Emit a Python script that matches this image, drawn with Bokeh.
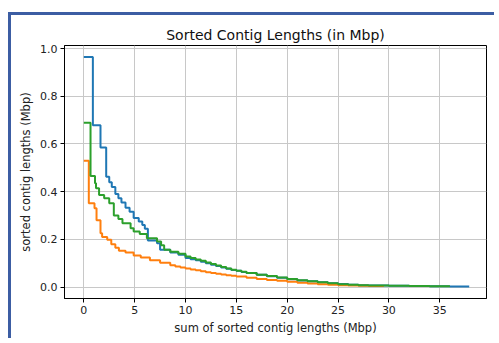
from bokeh.plotting import figure
from bokeh.models import Range1d, FixedTicker, PrintfTickFormatter
from bokeh.embed import file_html
from bokeh.resources import INLINE

TITLE = "Sorted Contig Lengths (in Mbp)"
X_LABEL = "sum of sorted contig lengths (Mbp)"
Y_LABEL = "sorted contig lengths (Mbp)"
X_TICKS = [0, 5, 10, 15, 20, 25, 30, 35]
Y_TICKS = [0.0, 0.2, 0.4, 0.6, 0.8, 1.0]

# step start positions (cumulative Mbp) and contig lengths (Mbp)
blue_x = [0, 0.89, 1.64, 2.2, 2.5, 2.75, 3.1, 3.4, 3.7, 4.1, 4.5, 4.9, 5.4, 5.75, 6.0, 6.3,
          7.2, 7.5, 8.5, 9.3, 10, 10.5, 11, 11.5, 12, 12.5, 13, 13.5, 14, 14.5, 15, 15.5,
          16, 17, 18, 19, 20, 21, 22, 23, 24, 25, 26, 27, 28, 30, 32, 34, 36, 37.9]
blue_y = [0.965, 0.679, 0.585, 0.463, 0.44, 0.42, 0.39, 0.372, 0.355, 0.333, 0.316, 0.29,
          0.275, 0.26, 0.245, 0.195, 0.184, 0.156, 0.145, 0.135, 0.122, 0.117, 0.112, 0.106,
          0.100, 0.094, 0.088, 0.082, 0.077, 0.072, 0.068, 0.063, 0.059, 0.052, 0.045,
          0.039, 0.033, 0.028, 0.024, 0.020, 0.016, 0.013, 0.010, 0.008, 0.007, 0.005,
          0.004, 0.003, 0.002, 0.002]

orange_x = [0, 0.49, 1.05, 1.25, 1.64, 1.8, 2.3, 2.7, 3.1, 3.45, 4.1, 4.9, 5.6, 6.5, 7.5,
            8.5, 9, 9.5, 10, 10.5, 11, 11.5, 12, 12.5, 13, 13.5, 14, 14.5, 15, 16, 17, 18,
            19, 20, 21, 22, 23, 24, 25, 26, 27, 28, 29.5]
orange_y = [0.53, 0.351, 0.33, 0.28, 0.226, 0.21, 0.198, 0.18, 0.165, 0.152, 0.145, 0.132,
            0.124, 0.112, 0.102, 0.091, 0.086, 0.082, 0.078, 0.074, 0.070, 0.066, 0.062,
            0.059, 0.056, 0.053, 0.050, 0.047, 0.044, 0.039, 0.034, 0.030, 0.026, 0.022,
            0.018, 0.015, 0.012, 0.010, 0.008, 0.006, 0.005, 0.004, 0.004]

green_x = [0, 0.66, 1.1, 1.2, 1.5, 2.0, 2.5, 2.95, 3.4, 3.8, 4.6, 4.9, 5.5, 6.2, 7.2, 7.6,
           7.9, 8.5, 9.3, 10, 10.5, 11, 11.5, 12, 12.5, 13, 13.5, 14, 14.5, 15, 15.5, 16,
           17, 18, 19, 20, 21, 22, 23, 24, 25, 26, 27, 28, 30, 32, 34, 36]
green_y = [0.689, 0.466, 0.435, 0.414, 0.386, 0.372, 0.351, 0.30, 0.285, 0.268, 0.247,
           0.233, 0.222, 0.205, 0.191, 0.175, 0.156, 0.148, 0.14, 0.128, 0.122, 0.116,
           0.110, 0.103, 0.097, 0.090, 0.084, 0.078, 0.073, 0.068, 0.064, 0.059, 0.052,
           0.046, 0.040, 0.034, 0.029, 0.024, 0.020, 0.016, 0.012, 0.010, 0.008, 0.007,
           0.005, 0.004, 0.003, 0.003]

FONT = "DejaVu Sans"
BORDER = "#3c5da3"

p = figure(width=486, height=326, output_backend="svg", toolbar_location=None,
           x_range=Range1d(-1.9, 39.6), y_range=Range1d(-0.048, 1.013),
           min_border_left=53, min_border_right=11, min_border_top=30, min_border_bottom=43,
           title=TITLE)

p.styles = {"border-top": "3px solid " + BORDER, "border-left": "3px solid " + BORDER,
            "margin-left": "8px", "margin-top": "12px"}

p.title.text_font = FONT
p.title.text_font_size = "14px"
p.title.text_font_style = "normal"
p.title.text_color = "#111111"
p.title.align = "center"
p.title.standoff = 5

p.outline_line_color = "black"
p.outline_line_width = 1
p.outline_line_alpha = 1

for ax in (p.xaxis, p.yaxis):
    ax.axis_line_color = "black"
    ax.major_tick_in = 0
    ax.major_tick_out = 4
    ax.minor_tick_out = 0
    ax.minor_tick_in = 0
    ax.major_label_text_font = FONT
    ax.major_label_text_font_size = "11px"
    ax.major_label_text_color = "#222222"
    ax.axis_label_text_font = FONT
    ax.axis_label_text_font_size = "11.5px"
    ax.axis_label_text_font_style = "normal"
    ax.axis_label_text_color = "#222222"
    ax.major_label_standoff = 3
    ax.axis_label_standoff = 4

p.xaxis.ticker = FixedTicker(ticks=X_TICKS)
p.yaxis.ticker = FixedTicker(ticks=Y_TICKS)
p.yaxis.formatter = PrintfTickFormatter(format="%.1f")
p.xaxis.axis_label = X_LABEL
p.yaxis.axis_label = Y_LABEL

p.grid.grid_line_color = "#c8c8c8"
p.grid.grid_line_width = 1

p.step(blue_x, blue_y, mode="after", line_color="#1f77b4", line_width=2)
p.step(orange_x, orange_y, mode="after", line_color="#ff7f0e", line_width=2)
p.step(green_x, green_y, mode="after", line_color="#2ca02c", line_width=2)

open("out.html", "w").write(file_html(p, INLINE))
